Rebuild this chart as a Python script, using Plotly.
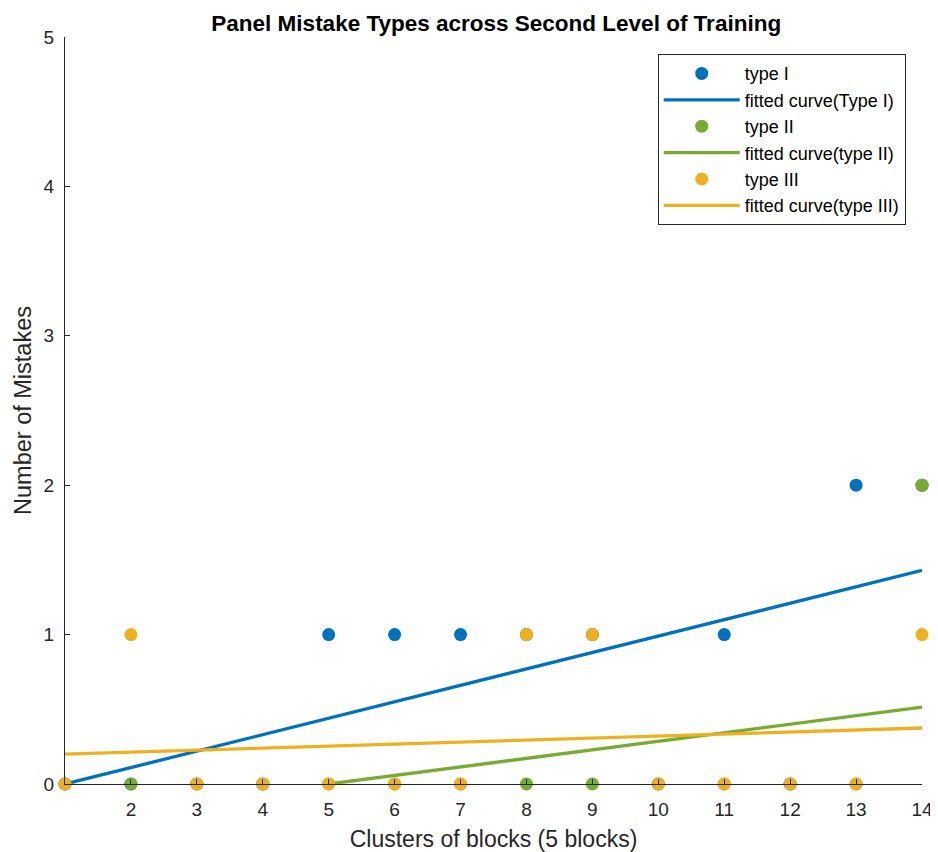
import plotly.graph_objects as go

clusters = list(range(1, 15))
type_I = [0, 0, 0, 0, 1, 1, 1, 1, 1, 0, 1, 0, 2, 2]
type_II = [0, 0, 0, 0, 0, 0, 0, 0, 0, 0, 0, 0, 0, 2]
type_III = [0, 1, 0, 0, 0, 0, 0, 1, 1, 0, 0, 0, 0, 1]

fit_I_x = [1, 14]
fit_I_y = [0.0, 1.43]
fit_II_x = [5, 14]
fit_II_y = [0.0, 0.515]
fit_III_x = [1, 14]
fit_III_y = [0.20, 0.375]

x_ticks = list(range(2, 15))
y_ticks = [0, 1, 2, 3, 4, 5]

BLUE = "#0072BD"
GREEN = "#77AC30"
YELLOW = "#EDB120"
FONT = "Liberation Sans, Arial, sans-serif"
AX = "#262626"

fig = go.Figure()

def pts(x, y, name, color):
    fig.add_trace(go.Scatter(x=x, y=y, mode="markers", name=name, cliponaxis=False,
                             marker=dict(color=color, size=13, line=dict(width=0))))

def ln(x, y, name, color):
    fig.add_trace(go.Scatter(x=x, y=y, mode="lines", name=name,
                             line=dict(color=color, width=3.3)))

pts(clusters, type_I, "type I", BLUE)
ln(fit_I_x, fit_I_y, "fitted curve(Type I)", BLUE)
pts(clusters, type_II, "type II", GREEN)
ln(fit_II_x, fit_II_y, "fitted curve(type II)", GREEN)
pts(clusters, type_III, "type III", YELLOW)
ln(fit_III_x, fit_III_y, "fitted curve(type III)", YELLOW)

axis_common = dict(showgrid=False, zeroline=False, showline=True, linecolor=AX,
                   linewidth=1, ticks="inside", ticklen=5, tickcolor=AX,
                   tickfont=dict(family=FONT, size=19, color=AX), mirror=False,
                   automargin=False)

fig.update_layout(
    width=930, height=844,
    paper_bgcolor="white", plot_bgcolor="white",
    margin=dict(l=57, r=16, t=29, b=68),
    title=dict(text="<b>Panel Mistake Types across Second Level of Training</b>",
               x=0.525, xanchor="center", y=0.991, yanchor="top", automargin=False,
               font=dict(family=FONT, size=22.5, color="black")),
    xaxis=dict(range=[1, 14], tickvals=x_ticks, ticklabelstandoff=8,
               title=dict(text="Clusters of blocks (5 blocks)", standoff=12,
                          font=dict(family=FONT, size=23, color=AX)),
               **axis_common),
    yaxis=dict(range=[0, 5], tickvals=y_ticks, ticklabelstandoff=6,
               title=dict(text="Number of Mistakes", standoff=5,
                          font=dict(family=FONT, size=23.5, color=AX)),
               **axis_common),
    legend=dict(x=0.981, xanchor="right", y=0.977, yanchor="top",
                bgcolor="white", bordercolor=AX, borderwidth=1,
                font=dict(family=FONT, size=18, color="black"),
                tracegroupgap=0, itemwidth=76),
    showlegend=True,
)

fig.write_html("out.html")
